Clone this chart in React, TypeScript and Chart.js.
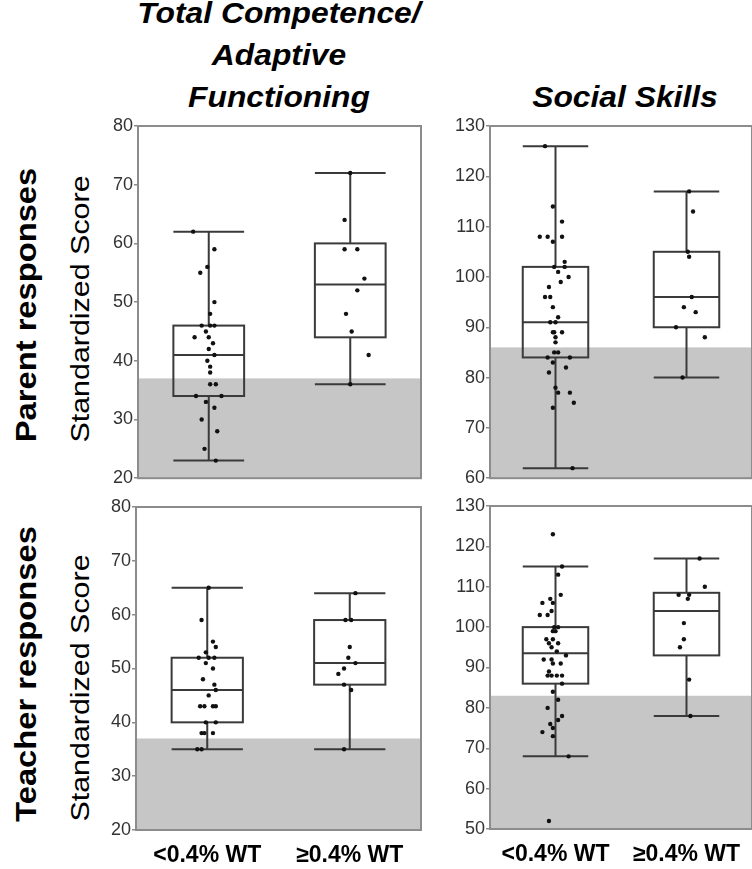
import React, { useEffect, useRef } from 'react';
import { Chart, registerables } from 'chart.js';

Chart.register(...registerables);

// ---------- DATA ----------
const groups = ['<0.4% WT', '≥0.4% WT'];
const columnTitles = ['Total Competence/\nAdaptive\nFunctioning', 'Social Skills'];
const rowTitles = ['Parent responses', 'Teacher responses'];
const yAxisTitle = 'Standardized Score';

// box stats: [min, q1, median, q3, max]
const parentCompetenceStats = [
  [23, 34, 41, 46, 62],
  [36, 44, 53, 60, 72],
];
const parentSocialStats = [
  [62, 84, 91, 102, 126],
  [80, 90, 96, 105, 117],
];
const teacherCompetenceStats = [
  [35, 40, 46, 52, 65],
  [35, 47, 51, 59, 64],
];
const teacherSocialStats = [
  [68, 86, 93.5, 100, 115],
  [78, 93, 104, 108.5, 117],
];

// clinical cut-off (shaded below)
const cutoffs = [37, 86, 37, 83];

// individual scores and horizontal jitter (in category units)
const pcLowValues = [62, 59, 56, 55, 50, 48, 46, 46, 46, 45, 44, 44, 43, 42, 41, 40, 39, 38, 36, 36, 34, 34, 33, 32, 30, 28, 25, 23];
const pcLowJitter = [-0.11, 0.04, -0.01, -0.06, 0.04, 0.01, -0.05, 0.01, 0.04, -0.02, -0.1, 0, 0.03, 0, 0.04, -0.01, 0.01, 0.01, 0.01, 0.05, -0.09, 0.09, -0.02, 0.04, -0.05, 0.06, -0.03, 0.05];
const pcHighValues = [72, 64, 59, 59, 54, 52, 48, 45, 41, 36];
const pcHighJitter = [0, -0.04, -0.04, 0.05, 0.1, 0.05, -0.03, 0.01, 0.13, 0];

const psLowValues = [126, 114, 111, 108, 108, 108, 107, 103, 102, 102, 101, 100, 99, 98, 96, 96, 94, 92, 91, 91, 89, 89, 89, 88, 87, 85, 85, 84, 84, 83, 82, 81, 78, 77, 77, 75, 74, 62];
const psLowJitter = [-0.08, -0.02, 0.05, -0.12, -0.06, 0.05, -0.02, 0.07, -0.01, 0.07, 0.02, 0.1, 0.04, -0.05, -0.08, -0.04, -0.02, 0.02, -0.04, 0, -0.02, -0.01, 0.05, 0, 0, -0.01, 0.02, -0.06, 0.11, -0.02, 0.08, -0.05, 0, 0.02, 0.11, 0.14, -0.02, 0.13];
const psHighValues = [117, 113, 105, 104, 96, 94, 93, 90, 88, 80];
const psHighJitter = [0.02, 0.05, 0.01, 0.02, 0.04, -0.02, 0.07, -0.08, 0.14, -0.03];

const tcLowValues = [65, 59, 55, 54, 53, 52, 52, 52, 51, 50, 48, 47, 46, 45, 43, 43, 43, 43, 40, 40, 38, 38, 38, 35, 35];
const tcLowJitter = [0.01, -0.04, 0.04, 0.06, -0.01, -0.06, 0.01, 0.05, -0.01, 0.04, -0.03, 0.05, 0.06, 0.01, -0.05, -0.02, 0.04, 0.06, -0.01, 0.06, -0.04, -0.02, 0.04, -0.07, -0.04];
const tcHighValues = [64, 59, 59, 54, 52, 51, 50, 49, 47, 46, 35];
const tcHighJitter = [0.04, -0.03, 0.01, 0, -0.01, 0.04, -0.04, -0.08, -0.04, 0.01, -0.04];

const tsLowValues = [123, 115, 113, 108, 107, 106, 106, 104, 103, 103, 100, 100, 99, 99, 97, 96, 96, 97, 95, 94, 93, 92, 92, 91, 91, 89, 88, 88, 88, 88, 86, 84, 82, 80, 78, 77, 76, 75, 74, 73, 68, 52];
const tsLowJitter = [-0.02, 0.05, 0.02, 0.04, -0.04, -0.1, -0.02, -0.03, -0.12, -0.06, -0.01, 0.02, -0.02, 0, -0.07, -0.05, 0.02, -0.02, -0.03, 0.01, 0.08, -0.09, -0.03, -0.02, 0.04, -0.05, -0.06, -0.03, 0.01, 0.05, 0.05, -0.02, 0.02, -0.06, 0.05, 0.02, -0.04, -0.02, -0.1, -0.02, 0.1, -0.05];
const tsHighValues = [117, 110, 108, 108, 107, 101, 97, 95, 87, 78];
const tsHighJitter = [0.1, 0.14, -0.06, 0.02, 0.01, -0.02, -0.02, -0.05, 0.02, 0.03];

// y axis ranges
const competenceRange = [20, 80];
const parentSocialRange = [60, 130];
const teacherSocialRange = [50, 130];

// ---------- RENDERING ----------
const FONT = '"Liberation Sans", Arial, Helvetica, sans-serif';

const boxPlugin = {
  id: 'boxes',
  beforeDatasetsDraw(chart: any, _args: any, opts: any) {
    const { ctx, chartArea, scales } = chart;
    const x = scales.x;
    const y = scales.y;
    const w = chartArea.right - chartArea.left;
    const h = chartArea.bottom - chartArea.top;
    ctx.save();
    const yc = y.getPixelForValue(opts.cutoff);
    ctx.fillStyle = '#c6c6c6';
    ctx.fillRect(chartArea.left, yc, w, chartArea.bottom - yc);

    const half = 0.25;
    (opts.stats as number[][]).forEach((s, i) => {
      const c = i + 1;
      const xl = x.getPixelForValue(c - half);
      const xr = x.getPixelForValue(c + half);
      const xm = x.getPixelForValue(c);
      const [mn, q1, md, q3, mx] = s.map((v) => y.getPixelForValue(v));
      ctx.strokeStyle = '#3a3a3a';
      ctx.lineWidth = 2;
      ctx.beginPath();
      ctx.moveTo(xm, q3);
      ctx.lineTo(xm, mx);
      ctx.moveTo(xm, q1);
      ctx.lineTo(xm, mn);
      ctx.moveTo(xl, mx);
      ctx.lineTo(xr, mx);
      ctx.moveTo(xl, mn);
      ctx.lineTo(xr, mn);
      ctx.moveTo(xl, md);
      ctx.lineTo(xr, md);
      ctx.stroke();
      ctx.strokeRect(xl, q3, xr - xl, q1 - q3);
    });

    ctx.strokeStyle = '#8c8c8c';
    ctx.lineWidth = 2;
    ctx.strokeRect(chartArea.left, chartArea.top, w, h);
    ctx.restore();
  },
};

type PanelProps = {
  left: number;
  top: number;
  width: number;
  height: number;
  yWidth: number;
  padTop: number;
  padRight: number;
  xHeight: number;
  range: number[];
  stats: number[][];
  cutoff: number;
  lowValues: number[];
  lowJitter: number[];
  highValues: number[];
  highJitter: number[];
  showLabels: boolean;
};

function Panel(p: PanelProps) {
  const ref = useRef<HTMLCanvasElement | null>(null);
  useEffect(() => {
    if (!ref.current) return;
    const mk = (vals: number[], jit: number[], c: number) =>
      vals.map((v, i) => ({ x: c + jit[i], y: v }));
    const chart = new Chart(ref.current, {
      type: 'scatter',
      data: {
        datasets: [
          {
            label: groups[0],
            data: mk(p.lowValues, p.lowJitter, 1),
            pointRadius: 2.2,
            pointBackgroundColor: '#111',
            pointBorderWidth: 0,
          },
          {
            label: groups[1],
            data: mk(p.highValues, p.highJitter, 2),
            pointRadius: 2.2,
            pointBackgroundColor: '#111',
            pointBorderWidth: 0,
          },
        ],
      },
      options: {
        animation: false,
        responsive: false,
        maintainAspectRatio: false,
        devicePixelRatio: 1,
        layout: { padding: { top: p.padTop, right: p.padRight, left: 0, bottom: 0 } },
        plugins: {
          legend: { display: false },
          tooltip: { enabled: false },
          // @ts-ignore
          boxes: { stats: p.stats, cutoff: p.cutoff },
        },
        scales: {
          x: {
            type: 'linear',
            min: 0.5,
            max: 2.5,
            afterBuildTicks: (s: any) => {
              s.ticks = [{ value: 1 }, { value: 2 }];
            },
            afterFit: (s: any) => {
              s.height = p.xHeight;
            },
            grid: { display: false, drawTicks: false },
            border: { display: false },
            ticks: {
              display: p.showLabels,
              padding: 12,
              color: '#000',
              font: { family: FONT, size: 23, weight: 'bold' },
              callback: (v: any) => groups[Math.round(v) - 1] ?? '',
              maxRotation: 0,
              autoSkip: false,
            },
          },
          y: {
            min: p.range[0],
            max: p.range[1],
            afterFit: (s: any) => {
              s.width = p.yWidth;
            },
            grid: {
              display: true,
              drawOnChartArea: false,
              drawTicks: true,
              tickLength: 4,
              color: '#8c8c8c',
              lineWidth: 1.5,
            },
            border: { display: false },
            ticks: {
              stepSize: 10,
              padding: 1,
              color: '#333',
              font: { family: FONT, size: 18 },
            },
          },
        },
      },
      plugins: [boxPlugin],
    } as any);
    return () => chart.destroy();
  }, []);
  return (
    <canvas
      ref={ref}
      width={p.width}
      height={p.height}
      style={{ position: 'absolute', left: p.left, top: p.top, width: p.width, height: p.height }}
    />
  );
}

function RotLabel(props: { text: string; cx: number; cy: number; size: number; bold?: boolean; stretch: number }) {
  const W = 400;
  const H = props.size;
  return (
    <div
      style={{
        position: 'absolute',
        left: props.cx - W / 2,
        top: props.cy - H / 2,
        width: W,
        height: H,
        lineHeight: `${H}px`,
        fontFamily: FONT,
        fontSize: props.size,
        fontWeight: props.bold ? 'bold' : 'normal',
        textAlign: 'center',
        whiteSpace: 'nowrap',
        color: '#000',
        transform: `rotate(-90deg) scaleX(${props.stretch})`,
      }}
    >
      {props.text}
    </div>
  );
}

export default function App() {
  const titleStyle: React.CSSProperties = {
    position: 'absolute',
    fontFamily: FONT,
    fontSize: 30,
    fontWeight: 'bold',
    fontStyle: 'italic',
    lineHeight: '42px',
    textAlign: 'center',
    whiteSpace: 'pre',
    color: '#000',
    transform: 'scaleX(1.06)',
  };
  return (
    <div
      style={{
        position: 'absolute',
        left: 0,
        top: 0,
        width: 752,
        height: 869,
        overflow: 'hidden',
        background: '#fff',
      }}
    >
      <div style={{ ...titleStyle, left: 29, top: -8, width: 500 }}>{columnTitles[0]}</div>
      <div style={{ ...titleStyle, left: 425, top: 76, width: 400 }}>{columnTitles[1]}</div>

      <RotLabel text={rowTitles[0]} cx={26} cy={305} size={30} bold stretch={1.09} />
      <RotLabel text={rowTitles[1]} cx={26} cy={674} size={30} bold stretch={1.09} />
      <RotLabel text={yAxisTitle} cx={80} cy={309} size={26} stretch={1.17} />
      <RotLabel text={yAxisTitle} cx={80} cy={688} size={26} stretch={1.17} />

      <Panel
        left={95} top={110} width={340} height={380}
        yWidth={43} padTop={16} padRight={14} xHeight={10}
        range={competenceRange} stats={parentCompetenceStats} cutoff={cutoffs[0]}
        lowValues={pcLowValues} lowJitter={pcLowJitter}
        highValues={pcHighValues} highJitter={pcHighJitter}
        showLabels={false}
      />
      <Panel
        left={440} top={110} width={316} height={380}
        yWidth={50} padTop={16} padRight={0} xHeight={10}
        range={parentSocialRange} stats={parentSocialStats} cutoff={cutoffs[1]}
        lowValues={psLowValues} lowJitter={psLowJitter}
        highValues={psHighValues} highJitter={psHighJitter}
        showLabels={false}
      />
      <Panel
        left={95} top={490} width={340} height={379}
        yWidth={41} padTop={17} padRight={14} xHeight={39}
        range={competenceRange} stats={teacherCompetenceStats} cutoff={cutoffs[2]}
        lowValues={tcLowValues} lowJitter={tcLowJitter}
        highValues={tcHighValues} highJitter={tcHighJitter}
        showLabels={true}
      />
      <Panel
        left={440} top={490} width={316} height={379}
        yWidth={50} padTop={16} padRight={0} xHeight={40}
        range={teacherSocialRange} stats={teacherSocialStats} cutoff={cutoffs[3]}
        lowValues={tsLowValues} lowJitter={tsLowJitter}
        highValues={tsHighValues} highJitter={tsHighJitter}
        showLabels={true}
      />
    </div>
  );
}
